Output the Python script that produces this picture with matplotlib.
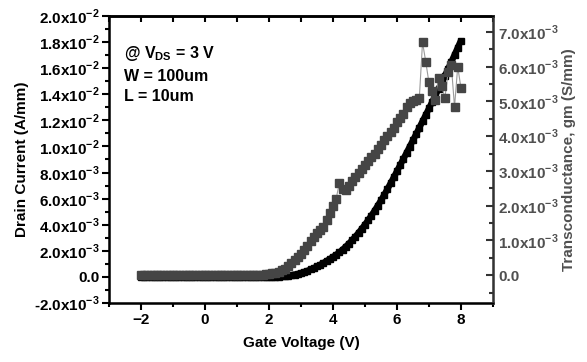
import numpy as np
import matplotlib
matplotlib.use('Agg')
from matplotlib import pyplot as plt
from matplotlib.ticker import MultipleLocator, FuncFormatter

plt.rcParams['font.family'] = ['Liberation Sans', 'DejaVu Sans']
plt.rcParams['font.weight'] = 'bold'

# gate voltage sweep, 0.1 V steps
vg = np.linspace(-2.0, 8.0, 101)

# drain current, mA/mm
id_ma = [0.00, 0.00, 0.00, 0.00, 0.00, 0.00, 0.00, 0.00, 0.00, 0.00,
         0.00, 0.00, 0.00, 0.00, 0.00, 0.00, 0.00, 0.00, 0.00, 0.00,
         0.00, 0.00, 0.00, 0.00, 0.00, 0.00, 0.00, 0.00, 0.00, 0.00,
         0.00, 0.00, 0.00, 0.00, 0.00, 0.00, 0.00, 0.00, 0.00, 0.00,
         0.00, 0.01, 0.02, 0.03, 0.05, 0.07, 0.10, 0.14, 0.18, 0.23,
         0.30, 0.38, 0.47, 0.57, 0.68, 0.80, 0.93, 1.07, 1.22, 1.37,
         1.53, 1.70, 1.88, 2.09, 2.32, 2.56, 2.82, 3.09, 3.38, 3.69,
         4.01, 4.35, 4.70, 5.07, 5.46, 5.86, 6.28, 6.72, 7.17, 7.63,
         8.10, 8.57, 9.04, 9.51, 9.99, 10.47, 10.95, 11.44, 11.93, 12.42,
         12.91, 13.41, 13.91, 14.41, 14.92, 15.43, 15.95, 16.48, 17.02, 17.57,
         18.12]

# transconductance, mS/mm (grey squares)
gm_ms = [0.00, 0.00, 0.00, 0.00, 0.00, 0.00, 0.00, 0.00, 0.00, 0.00,
         0.00, 0.00, 0.00, 0.00, 0.00, 0.00, 0.00, 0.00, 0.00, 0.00,
         0.00, 0.00, 0.00, 0.00, 0.00, 0.00, 0.00, 0.00, 0.00, 0.00,
         0.00, 0.00, 0.00, 0.00, 0.00, 0.01, 0.01, 0.02, 0.02, 0.03,
         0.04, 0.05, 0.07, 0.10, 0.14, 0.19, 0.26, 0.34, 0.43, 0.52,
         0.62, 0.73, 0.85, 0.98, 1.10, 1.22, 1.30, 1.40, 1.58, 1.78,
         1.98, 2.20, 2.65, 2.48, 2.45, 2.58, 2.70, 2.82, 2.93, 3.05,
         3.16, 3.28, 3.40, 3.50, 3.62, 3.76, 3.88, 4.00, 4.12, 4.25,
         4.40, 4.52, 4.64, 4.85, 4.95, 5.00, 5.05, 5.10, 6.70, 6.15,
         5.55, 5.30, 5.05, 5.68, 5.45, 5.10, 5.85, 6.05, 4.84, 6.00,
         5.40]

id_a = np.array(id_ma) * 1e-3
gm_s = np.array(gm_ms) * 1e-3

grey = '#454545'


def sci(v, pos):
    if abs(v) < 1e-12:
        return '0.0'
    e = int(np.floor(np.log10(abs(v)) + 1e-9))
    m = v / 10.0**e
    return r'%.1fx10$^{\mathregular{%d}}$' % (m, e)


fig = plt.figure(figsize=(5.87, 3.62), dpi=100)
ax = fig.add_axes([0.1857, 0.163, 0.654, 0.7928])
ax.plot(vg, id_a, color='black', lw=4.5, solid_capstyle='butt', zorder=3)
ax.plot(vg, id_a, color='black', marker='s', ms=5, lw=0, zorder=3)
ax.set_xlim(-3, 9)
ax.set_ylim(-0.002, 0.02)
ax.xaxis.set_major_locator(MultipleLocator(2))
ax.xaxis.set_minor_locator(MultipleLocator(1))
ax.yaxis.set_major_locator(MultipleLocator(0.002))
ax.yaxis.set_minor_locator(MultipleLocator(0.001))
ax.yaxis.set_major_formatter(FuncFormatter(sci))
ax.tick_params(which='both', direction='out', width=1.5, labelsize=11,
               top=False, right=False, pad=2)
ax.tick_params(which='major', length=5)
ax.tick_params(which='minor', length=3)
for s in ['left', 'bottom', 'top']:
    ax.spines[s].set_linewidth(1.8)
ax.set_xlabel('Gate Voltage (V)', fontsize=11, fontweight='bold', labelpad=7)
ax.set_ylabel('Drain Current (A/mm)', fontsize=11, fontweight='bold', labelpad=3)

top = ax.secondary_xaxis('top')
top.xaxis.set_major_locator(MultipleLocator(1))
top.tick_params(direction='in', length=4, width=1.5, labeltop=False)
top.spines['top'].set_linewidth(1.8)

ax2 = ax.twinx()
ax2.plot(vg, gm_s, color='#9a9a9a', lw=0.8, marker='s', ms=5.6,
         mfc=grey, mec=grey, zorder=4)
ax2.set_ylim(-0.0008, 0.00746)
ax2.yaxis.set_major_locator(MultipleLocator(0.001))
ax2.yaxis.set_minor_locator(MultipleLocator(0.0005))
ax2.yaxis.set_major_formatter(FuncFormatter(
    lambda v, p: '' if v < -1e-9 else sci(v, p)))
ax2.tick_params(which='both', direction='in', width=1.5, colors='#333333',
                labelcolor='#505050', labelsize=11, pad=4)
ax2.tick_params(which='major', length=5)
ax2.tick_params(which='minor', length=3)
ax2.spines['right'].set_linewidth(1.8)
ax2.spines['right'].set_color('#333333')
ax2.set_ylabel('Transconductance, gm (S/mm)', fontsize=11,
               fontweight='bold', color='#505050', labelpad=2)

ax.text(0.04, 0.87, r'@ V$_{\mathregular{DS}}$ = 3 V', transform=ax.transAxes,
        fontsize=11.5, fontweight='bold', va='center')
ax.text(0.04, 0.79, 'W = 100um', transform=ax.transAxes,
        fontsize=11.5, fontweight='bold', va='center')
ax.text(0.04, 0.72, 'L = 10um', transform=ax.transAxes,
        fontsize=11.5, fontweight='bold', va='center')

fig.savefig('out.png', dpi=100)
